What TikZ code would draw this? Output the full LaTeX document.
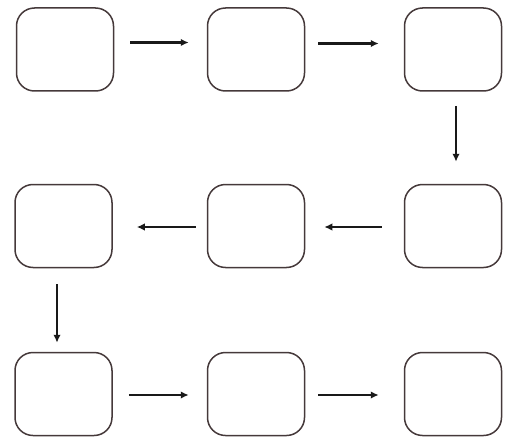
\documentclass[tikz,border=0pt]{standalone}
\usetikzlibrary{arrows.meta}
\definecolor{boxline}{HTML}{45393A}
\begin{document}
\begin{tikzpicture}[x=1pt,y=-1pt,
  stage/.style={draw=boxline,line width=1.5pt,rounded corners=18pt,minimum width=97pt,minimum height=83pt,inner sep=0pt},
  flow/.style={line width=2.4pt,-{Latex[length=8pt,width=7.5pt]},black!90}]
\useasboundingbox (0,0) rectangle (505,441);
\node[stage] (a1) at (65,49.5) {};
\node[stage] (a2) at (256,49.5) {};
\node[stage] (a3) at (453,49.5) {};
\node[stage] (b1) at (63.5,226) {};
\node[stage] (b2) at (256,226) {};
\node[stage] (b3) at (453,226) {};
\node[stage] (c1) at (63.5,394) {};
\node[stage] (c2) at (256,394) {};
\node[stage] (c3) at (453,394) {};
\draw[flow] ([xshift=16pt,yshift=7pt]a1.east) -- ([xshift=-18pt,yshift=7pt]a2.west);
\draw[flow] ([xshift=13pt,yshift=6pt]a2.east) -- ([xshift=-25pt,yshift=6pt]a3.west);
\draw[flow] ([xshift=3pt,yshift=-14pt]a3.south) -- ([xshift=3pt,yshift=22pt]b3.north);
\draw[flow] ([xshift=-22pt,yshift=-1pt]b3.west) -- ([xshift=19pt,yshift=-1pt]b2.east);
\draw[flow] ([xshift=-11pt,yshift=-1pt]b2.west) -- ([xshift=24pt,yshift=-1pt]b1.east);
\draw[flow] ([xshift=-6.5pt,yshift=-16pt]b1.south) -- ([xshift=-6.5pt,yshift=9pt]c1.north);
\draw[flow] ([xshift=16pt,yshift=-1pt]c1.east) -- ([xshift=-18pt,yshift=-1pt]c2.west);
\draw[flow] ([xshift=13pt,yshift=-1pt]c2.east) -- ([xshift=-25pt,yshift=-1pt]c3.west);
\end{tikzpicture}
\end{document}
